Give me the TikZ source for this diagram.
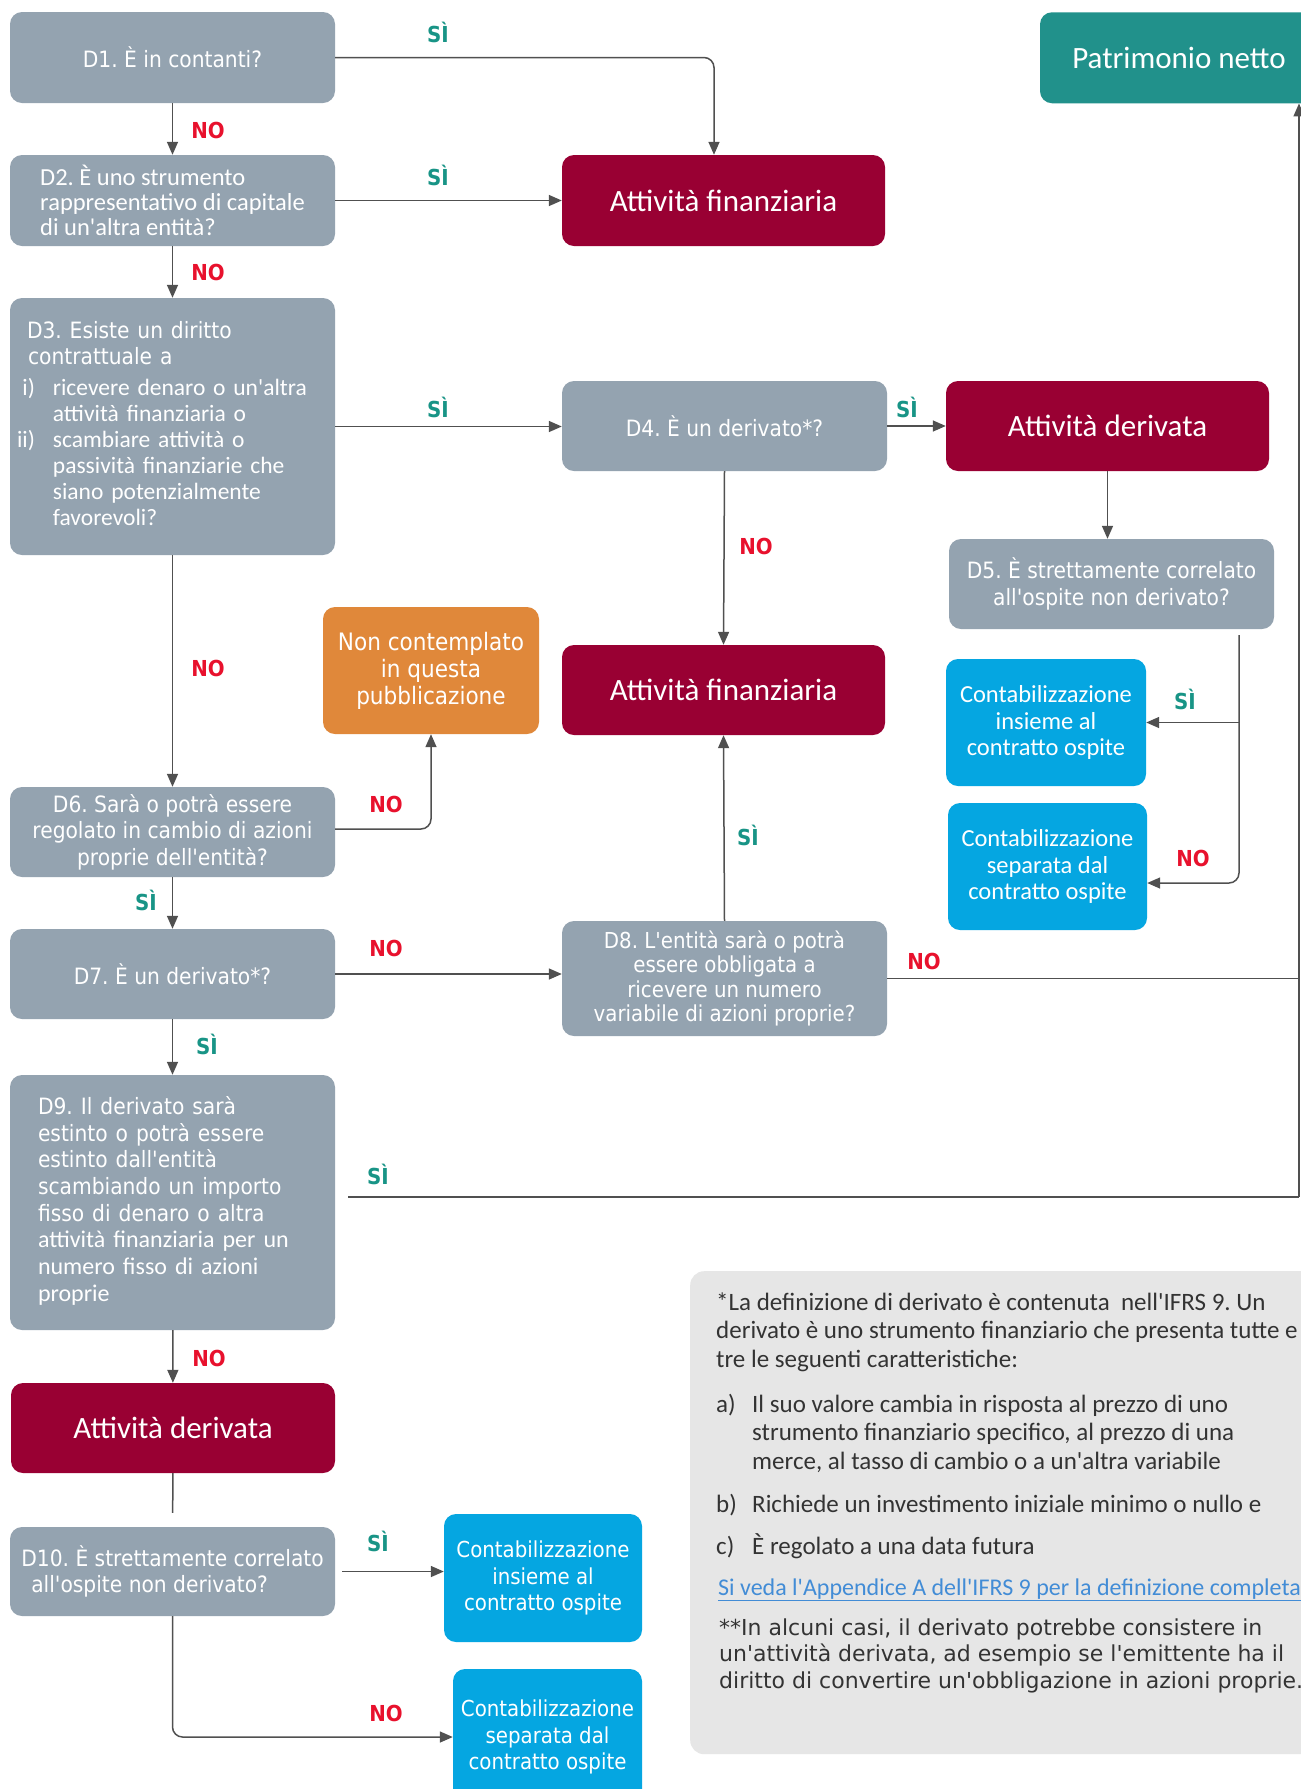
\documentclass[tikz,border=0pt]{standalone}
\usepackage{fontspec}
\setmainfont{Carlito}[Ligatures=TeXOff]
\newfontfamily\tah{DejaVu Sans Condensed}
\newfontfamily\verd{DejaVu Sans}
\usetikzlibrary{arrows.meta, positioning, calc}
\frenchspacing

\definecolor{qgray}{RGB}{148,163,176}
\definecolor{wine}{RGB}{153,0,51}
\definecolor{tealbox}{RGB}{33,145,139}
\definecolor{orangebox}{RGB}{224,136,58}
\definecolor{cyanbox}{RGB}{5,166,225}
\definecolor{notegray}{RGB}{230,230,230}
\definecolor{nored}{RGB}{232,17,45}
\definecolor{siteal}{RGB}{24,148,134}
\definecolor{linegray}{RGB}{80,80,80}
\definecolor{linkblue}{RGB}{66,140,214}
\definecolor{notetext}{RGB}{51,51,51}

\newcommand{\setfs}[2]{\fontsize{#1}{#2}\selectfont}

\tikzset{
    box/.style={rectangle, rounded corners=12pt, inner sep=0pt, text=white},
    quest/.style={box, fill=qgray, minimum width=325pt, align=center, font=\tah\setfs{22.5}{26.5}},
    outcome/.style={box, fill=wine, minimum width=323pt, minimum height=90pt, font=\setfs{31}{36}},
    acct/.style={box, fill=cyanbox, align=center, minimum height=127pt},
    yeslbl/.style={inner sep=0pt, text=siteal, font=\tah\bfseries\setfs{22}{26}},
    nolbl/.style={inner sep=0pt, text=nored, font=\tah\bfseries\setfs{22}{26}},
    notetxt/.style={inner sep=0pt, text=notetext, font=\setfs{25}{28.5}},
    conn/.style={draw=linegray, line width=1.5pt},
    arr/.style={conn, -{Triangle[length=13pt, width=11pt]}},
}

\begin{document}
\frenchspacing
\begin{tikzpicture}[x=1pt, y=-1pt]
    \useasboundingbox (0,0) rectangle (1301,1789);
    \fill[white] (0,0) rectangle (1301,1789);

    % left column
    \node[quest, minimum height=91pt] (d1) at (172.5, 57.5) {D1. È in contanti?};
    \node[quest, minimum height=91pt, align=left, font=\setfs{24.5}{25}] (d2) at (172.5, 200.5) {D2. È uno strumento\\rappresentativo di capitale\\di un'altra entità?};
    \node[quest, minimum height=257pt, text width=311pt, align=left, font=\setfs{23.5}{26}] (d3) at (172.5, 426.5) {\begin{tabular}{@{}r@{\hspace{18pt}}l@{}}
        \multicolumn{2}{@{}l}{\tah\setfs{22.5}{26}\hspace*{10pt}D3. Esiste un diritto}\\
        \multicolumn{2}{@{}l}{\tah\setfs{22.5}{26}\hspace*{11pt}contrattuale a}\\[5pt]
        i) & ricevere denaro o un'altra\\
           & attività finanziaria o\\
        ii) & scambiare attività o\\
           & passività finanziarie che\\
           & siano potenzialmente\\
           & favorevoli?
        \end{tabular}};
    \node[quest, minimum height=90pt] (d6) at (172.5, 832) {D6. Sarà o potrà essere\\regolato in cambio di azioni\\proprie dell'entità?};
    \node[quest, minimum height=90pt] (d7) at (172.5, 974) {D7. È un derivato*?};
    \node[quest, minimum height=255pt, text width=269pt, align=left, font=\setfs{24}{26.7}] (d9) at (172.5, 1202.5) {\begin{tabular}{@{}l@{}}
        \tah\setfs{22.5}{26.7}D9. Il derivato sarà\\
        \tah\setfs{22.5}{26.7}estinto o potrà essere\\
        \tah\setfs{22.5}{26.7}estinto dall'entità\\
        \tah\setfs{22.5}{26.7}scambiando un importo\\
        \tah\setfs{22.5}{26.7}fisso di denaro o altra\\
        attività finanziaria per un\\
        numero fisso di azioni\\
        proprie
        \end{tabular}};
    \node[outcome, minimum width=324pt] (ader2) at (173, 1428) {Attività derivata};
    \node[quest, minimum height=89pt, align=left] (d10) at (172.5, 1571.5) {D10. È strettamente correlato\\\hspace*{10pt}all'ospite non derivato?};

    % middle and right
    \node[outcome, minimum height=91pt] (afin1) at (723.5, 200.5) {Attività finanziaria};
    \node[quest, minimum height=90pt] (d4) at (724.5, 426) {D4. È un derivato*?};
    \node[outcome] (ader1) at (1107.5, 426) {Attività derivata};
    \node[quest, minimum height=90pt] (d5) at (1111.5, 584) {D5. È strettamente correlato\\all'ospite non derivato?};
    \node[outcome] (afin2) at (723.5, 690) {Attività finanziaria};
    \node[box, fill=orangebox, align=center, minimum width=216pt, minimum height=127pt, font=\tah\setfs{24}{27}] (noncont) at (431, 670.5) {Non contemplato\\in questa\\pubblicazione};
    \node[acct, minimum width=200pt, font=\setfs{24.5}{26.5}] (ci1) at (1046, 722.5) {Contabilizzazione\\insieme al\\contratto ospite};
    \node[acct, minimum width=199pt, font=\setfs{24.5}{26.5}] (cs1) at (1047.5, 866.5) {Contabilizzazione\\separata dal\\contratto ospite};
    \node[quest, minimum height=115pt, font=\tah\setfs{22}{24.5}] (d8) at (724.5, 978.5) {D8. L'entità sarà o potrà\\essere obbligata a\\ricevere un numero\\variabile di azioni proprie?};
    \node[box, fill=tealbox, minimum width=278pt, minimum height=91pt, font=\setfs{31}{36}] (pn) at (1179, 57.75) {Patrimonio netto};
    \node[acct, minimum width=198pt, minimum height=128pt, font=\tah\setfs{22}{26.5}] (ci2) at (543, 1578) {Contabilizzazione\\insieme al\\contratto ospite};
    \node[acct, minimum width=189pt, minimum height=136pt, font=\tah\setfs{22}{26.5}] (cs2) at (547.5, 1737) {Contabilizzazione\\separata dal\\contratto ospite};

    % note
    \node[rectangle, rounded corners=14pt, fill=notegray, minimum width=680pt, minimum height=483pt, anchor=north west] (note) at (690, 1271) {};
    \node[notetxt, anchor=base west] (ndef) at (716, 1310) {\begin{tabular}[t]{@{}l@{}}
        *La definizione di derivato è contenuta\ \ nell'IFRS 9. Un\\
        derivato è uno strumento finanziario che presenta tutte e\\
        tre le seguenti caratteristiche:
        \end{tabular}};
    \node[notetxt, anchor=base west] (nitema) at (716, 1412) {\begin{tabular}[t]{@{}p{36pt}@{}l@{}}
        a) & Il suo valore cambia in risposta al prezzo di uno\\
           & strumento finanziario specifico, al prezzo di una\\
           & merce, al tasso di cambio o a un'altra variabile
        \end{tabular}};
    \node[notetxt, anchor=base west] (nitemb) at (716, 1512) {\makebox[36pt][l]{b)}Richiede un investimento iniziale minimo o nullo e};
    \node[notetxt, anchor=base west] (nitemc) at (716, 1554) {\makebox[36pt][l]{c)}È regolato a una data futura};
    \node[notetxt, anchor=base west, text=linkblue, font=\setfs{24}{28.5}] (nlink) at (718, 1595) {\underline{Si veda l'Appendice A dell'IFRS 9 per la definizione completa}};
    \node[notetxt, anchor=base west, font=\verd\setfs{22}{26.5}] (nstar) at (719, 1635) {\begin{tabular}[t]{@{}l@{}}
        **In alcuni casi, il derivato potrebbe consistere in\\
        un'attività derivata, ad esempio se l'emittente ha il\\
        diritto di convertire un'obbligazione in azioni proprie.
        \end{tabular}};

    % connectors
    \coordinate (d5out) at (1239, 635);
    \coordinate (rail) at (1299, 1197);
    \coordinate (d9out) at (348, 1197);

    \draw[arr, rounded corners=10pt] (d1.east) -| ([xshift=-9.5pt]afin1.north);
    \draw[arr] (d1) -- (d2);
    \draw[arr] (d2) -- (afin1);
    \draw[arr] (d2) -- (d3);
    \draw[arr] (d3.east) -- (d3.east -| d4.west);
    \draw[arr] (d4) -- (ader1);
    \draw[arr] (ader1.south) -- (ader1.south |- d5.north);
    \draw[arr] (d4.south) -- (afin2.north);
    \draw[arr, rounded corners=10pt] (d5out) |- ([yshift=-16.5pt]cs1.east);
    \draw[arr] (d5out |- ci1.east) -- (ci1.east);
    \draw[arr] (d3) -- (d6);
    \draw[arr, rounded corners=10pt] ([yshift=3pt]d6.east) -| (noncont.south);
    \draw[arr] (d6) -- (d7);
    \draw[arr] (d7.east) -- (d7.east -| d8.west);
    \draw[arr] (d8.north) -- (afin2.south);
    \draw[conn] (d8.east) -- (d8.east -| rail);
    \draw[conn] (d9out) -- (rail);
    \draw[arr] (rail) -- (rail |- pn.south);
    \draw[arr] (d7) -- (d9);
    \draw[arr] (d9) -- (ader2);
    \draw[conn, shorten >=14pt] (ader2) -- (d10);
    \draw[arr, shorten <=7pt] (d10.east) -- (d10.east -| ci2.west);
    \draw[arr, rounded corners=10pt] (d10.south) |- (cs2.west);

    % labels
    \node[yeslbl] (s1) at (438, 32) {SÌ};
    \node[nolbl] (n1) at (208, 130) {NO};
    \node[yeslbl] (s2) at (438, 175) {SÌ};
    \node[nolbl] (n2) at (208, 272) {NO};
    \node[yeslbl] (s3) at (438, 407) {SÌ};
    \node[yeslbl] (s4) at (907, 407) {SÌ};
    \node[nolbl] (n4) at (756, 546) {NO};
    \node[nolbl] (n3) at (208, 668) {NO};
    \node[yeslbl] (s5) at (1185, 699) {SÌ};
    \node[nolbl] (n5) at (1193, 858) {NO};
    \node[nolbl] (n6) at (386, 804) {NO};
    \node[yeslbl] (s6) at (146, 900) {SÌ};
    \node[yeslbl] (s8) at (748, 835) {SÌ};
    \node[nolbl] (n7) at (386, 948) {NO};
    \node[nolbl] (n8) at (924, 961) {NO};
    \node[yeslbl] (s7) at (207, 1044) {SÌ};
    \node[yeslbl] (s9) at (378, 1174) {SÌ};
    \node[nolbl] (n9) at (209, 1358) {NO};
    \node[yeslbl] (s10) at (378, 1541) {SÌ};
    \node[nolbl] (n10) at (386, 1713) {NO};
\end{tikzpicture}
\end{document}
